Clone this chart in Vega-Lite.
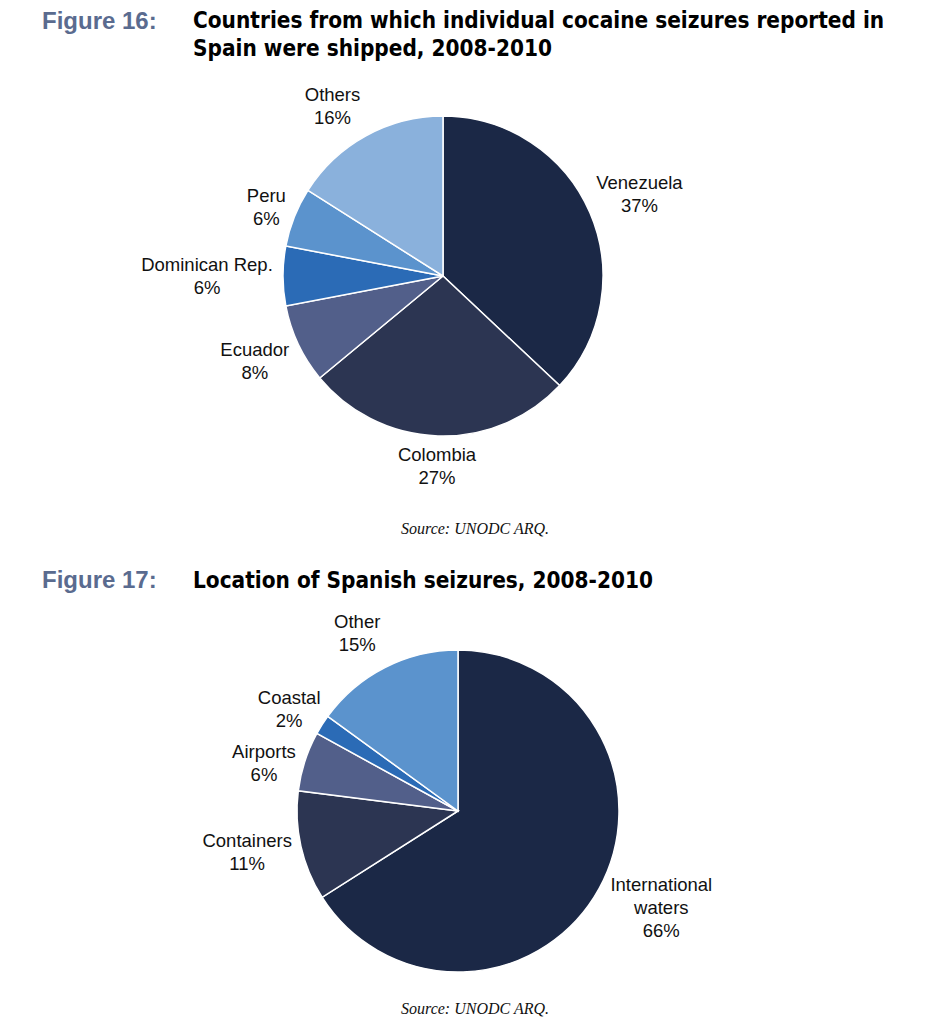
{
  "$schema": "https://vega.github.io/schema/vega-lite/v6.json",
  "padding": {"top": 10, "left": 0, "right": 0, "bottom": 0},
  "background": "white",
  "config": {"view": {"stroke": null}},
  "datasets": {
    "fig16": [
      {"rank": 1, "name": "Venezuela", "value": 37},
      {"rank": 2, "name": "Colombia", "value": 27},
      {"rank": 3, "name": "Ecuador", "value": 8},
      {"rank": 4, "name": "Dominican Rep.", "value": 6},
      {"rank": 5, "name": "Peru", "value": 6},
      {"rank": 6, "name": "Others", "value": 16}
    ],
    "fig17": [
      {"rank": 1, "name": "International waters", "value": 66},
      {"rank": 2, "name": "Containers", "value": 11},
      {"rank": 3, "name": "Airports", "value": 6},
      {"rank": 4, "name": "Coastal", "value": 2},
      {"rank": 5, "name": "Other", "value": 15}
    ]
  },
  "resolve": {"scale": {"color": "independent", "theta": "independent"}},
  "spacing": 20,
  "vconcat": [
    {
      "title": {"text": "Source: UNODC ARQ.", "orient": "bottom", "anchor": "middle", "frame": "bounds", "dx": 32, "offset": 11, "font": "Liberation Serif", "fontStyle": "italic", "fontWeight": "normal", "fontSize": 16, "color": "#111111"},
      "vconcat": [
        {
          "title": {"text": "Figure 16:", "orient": "top", "anchor": "start", "frame": "group", "dx": 42, "offset": -24,
                    "font": "Liberation Sans", "fontSize": 24, "fontWeight": "bold", "color": "#5a6b8f"},
          "vconcat": [
            {
              "width": 886,
              "height": 368,
              "title": {
                "text": ["Countries from which individual cocaine seizures reported in", "Spain were shipped, 2008-2010"],
                "anchor": "start", "frame": "group", "dx": 193,
                "font": "'Liberation Sans Narrow', 'DejaVu Sans Condensed', 'Liberation Sans', sans-serif",
                "fontSize": 22.4, "fontWeight": "bold", "color": "#000000", "lineHeight": 28, "offset": -12
              },
              "data": {"name": "fig16"},
              "encoding": {
                "theta": {"field": "value", "type": "quantitative", "stack": true},
                "order": {"field": "rank", "type": "quantitative"}
              },
              "layer": [
                {
                  "mark": {"type": "arc", "outerRadius": 160, "stroke": "white", "strokeWidth": 1.5},
                  "encoding": {
                    "color": {"field": "name", "type": "nominal", "legend": null,
                      "scale": {"domain": ["Venezuela", "Colombia", "Ecuador", "Dominican Rep.", "Peru", "Others"],
                                "range": ["#1b2846", "#2c3552", "#525f8a", "#2b6bb6", "#5b93cd", "#8ab1dc"]}}
                  }
                },
                {
                  "transform": [{"calculate": "datum.name + '\\n' + datum.value + '%'", "as": "label"}],
                  "mark": {"type": "text", "radius": 214, "dy": -8, "lineBreak": "\n", "font": "Liberation Sans", "fontSize": 18.5, "lineHeight": 23, "color": "#111111"},
                  "encoding": {"text": {"condition": {"test": "datum.name === 'Venezuela'", "field": "label"}, "value": ""}}
                },
                {
                  "transform": [{"calculate": "datum.name + '\\n' + datum.value + '%'", "as": "label"}],
                  "mark": {"type": "text", "radius": 190, "dy": -10.5, "lineBreak": "\n", "font": "Liberation Sans", "fontSize": 18.5, "lineHeight": 23, "color": "#111111"},
                  "encoding": {"text": {"condition": {"test": "indexof(['Colombia','Peru'], datum.name) >= 0", "field": "label"}, "value": ""}}
                },
                {
                  "transform": [{"calculate": "datum.name + '\\n' + datum.value + '%'", "as": "label"}],
                  "mark": {"type": "text", "radius": 208, "dy": -15, "lineBreak": "\n", "font": "Liberation Sans", "fontSize": 18.5, "lineHeight": 23, "color": "#111111"},
                  "encoding": {"text": {"condition": {"test": "datum.name === 'Ecuador'", "field": "label"}, "value": ""}}
                },
                {
                  "transform": [{"calculate": "datum.name + '\\n' + datum.value + '%'", "as": "label"}],
                  "mark": {"type": "text", "radius": 236, "dy": -11.5, "lineBreak": "\n", "font": "Liberation Sans", "fontSize": 18.5, "lineHeight": 23, "color": "#111111"},
                  "encoding": {"text": {"condition": {"test": "datum.name === 'Dominican Rep.'", "field": "label"}, "value": ""}}
                },
                {
                  "transform": [{"calculate": "datum.name + '\\n' + datum.value + '%'", "as": "label"}],
                  "mark": {"type": "text", "radius": 192, "dx": -18, "dy": -13, "lineBreak": "\n", "font": "Liberation Sans", "fontSize": 18.5, "lineHeight": 23, "color": "#111111"},
                  "encoding": {"text": {"condition": {"test": "datum.name === 'Others'", "field": "label"}, "value": ""}}
                }
              ]
            }
          ]
        }
      ]
    },
    {
      "title": {"text": "Source: UNODC ARQ.", "orient": "bottom", "anchor": "middle", "frame": "bounds", "dx": 17, "offset": 20, "font": "Liberation Serif", "fontStyle": "italic", "fontWeight": "normal", "fontSize": 16, "color": "#111111"},
      "vconcat": [
        {
          "title": {"text": "Figure 17:", "orient": "top", "anchor": "start", "frame": "group", "dx": 42, "offset": -36,
                    "font": "Liberation Sans", "fontSize": 24, "fontWeight": "bold", "color": "#5a6b8f"},
          "vconcat": [
            {
              "width": 916,
              "height": 340,
              "title": {
                "text": "Location of Spanish seizures, 2008-2010",
                "anchor": "start", "frame": "group", "dx": 193,
                "font": "'Liberation Sans Narrow', 'DejaVu Sans Condensed', 'Liberation Sans', sans-serif",
                "fontSize": 22.4, "fontWeight": "bold", "color": "#000000", "lineHeight": 28, "offset": -35
              },
              "data": {"name": "fig17"},
              "encoding": {
                "theta": {"field": "value", "type": "quantitative", "stack": true},
                "order": {"field": "rank", "type": "quantitative"}
              },
              "layer": [
                {
                  "mark": {"type": "arc", "outerRadius": 161, "stroke": "white", "strokeWidth": 1.5},
                  "encoding": {
                    "color": {"field": "name", "type": "nominal", "legend": null,
                      "scale": {"domain": ["International waters", "Containers", "Airports", "Coastal", "Other"],
                                "range": ["#1b2846", "#2c3552", "#525f8a", "#2b6bb6", "#5b93cd"]}}
                  }
                },
                {
                  "transform": [{"calculate": "datum.name + ' ' + datum.value + '%'", "as": "label"}],
                  "mark": {"type": "text", "radius": 232, "dy": -38, "lineBreak": " ", "font": "Liberation Sans", "fontSize": 18.5, "lineHeight": 23, "color": "#111111"},
                  "encoding": {"text": {"condition": {"test": "datum.name === 'International waters'", "field": "label"}, "value": ""}}
                },
                {
                  "transform": [{"calculate": "datum.name + '\\n' + datum.value + '%'", "as": "label"}],
                  "mark": {"type": "text", "radius": 216, "dy": -17.5, "lineBreak": "\n", "font": "Liberation Sans", "fontSize": 18.5, "lineHeight": 23, "color": "#111111"},
                  "encoding": {"text": {"condition": {"test": "datum.name === 'Containers'", "field": "label"}, "value": ""}}
                },
                {
                  "transform": [{"calculate": "datum.name + '\\n' + datum.value + '%'", "as": "label"}],
                  "mark": {"type": "text", "radius": 200, "dy": -6, "lineBreak": "\n", "font": "Liberation Sans", "fontSize": 18.5, "lineHeight": 23, "color": "#111111"},
                  "encoding": {"text": {"condition": {"test": "datum.name === 'Coastal'", "field": "label"}, "value": ""}}
                },
                {
                  "transform": [{"calculate": "datum.name + '\\n' + datum.value + '%'", "as": "label"}],
                  "mark": {"type": "text", "radius": 200, "dx": -10, "dy": -11, "lineBreak": "\n", "font": "Liberation Sans", "fontSize": 18.5, "lineHeight": 23, "color": "#111111"},
                  "encoding": {"text": {"condition": {"test": "datum.name === 'Other'", "field": "label"}, "value": ""}}
                },
                {
                  "transform": [{"calculate": "datum.name + '\\n' + datum.value + '%'", "as": "label"}],
                  "mark": {"type": "text", "radius": 204, "dy": 4, "lineBreak": "\n", "font": "Liberation Sans", "fontSize": 18.5, "lineHeight": 23, "color": "#111111"},
                  "encoding": {"text": {"condition": {"test": "datum.name === 'Airports'", "field": "label"}, "value": ""}}
                }
              ]
            }
          ]
        }
      ]
    }
  ]
}
